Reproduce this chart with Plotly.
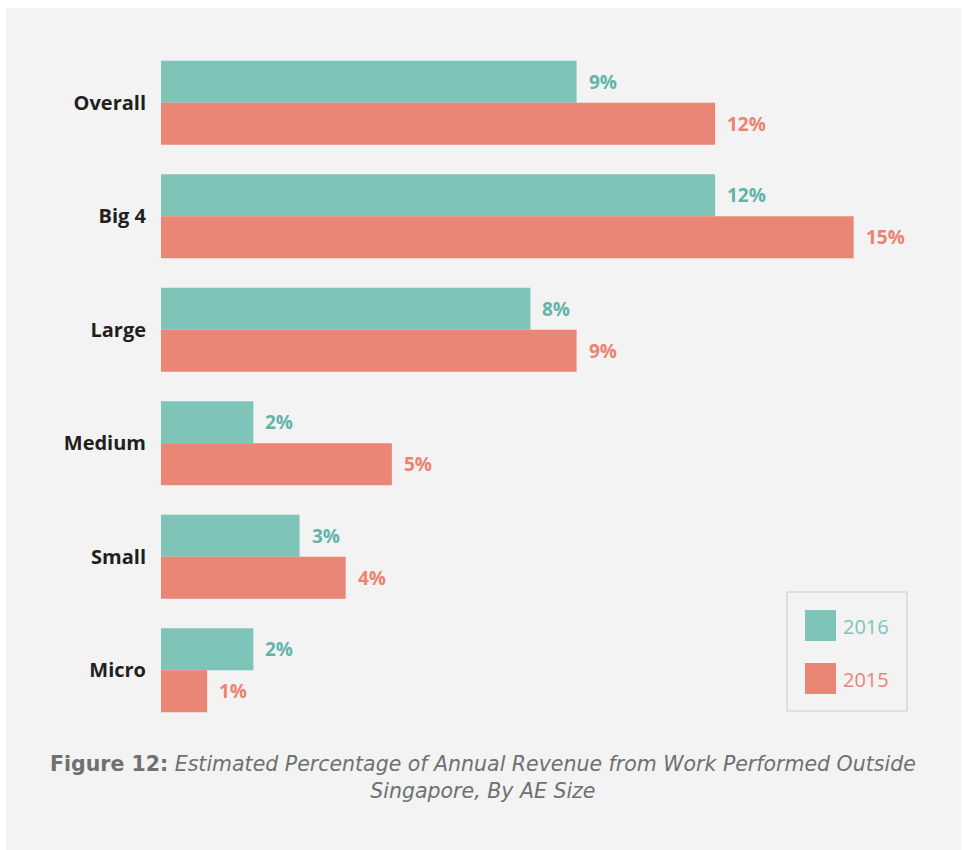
import plotly.graph_objects as go

# Data: share of annual revenue earned from work outside Singapore, by AE size
categories = ["Overall", "Big 4", "Large", "Medium", "Small", "Micro"]
values_2016 = [9, 12, 8, 2, 3, 2]
values_2015 = [12, 15, 9, 5, 4, 1]
series_names = ["2016", "2015"]

TEAL = "#7ec4b9"
SALMON = "#ea8676"
TEAL_TEXT = "#62b3aa"
SALMON_TEXT = "#ec8270"
PANEL = "#f2f3f2"

W, H = 962, 850
M_L, M_R, M_T, M_B = 161, 16, 46, 123
PLOT_W = W - M_L - M_R
PLOT_H = H - M_T - M_B
X_MAX = 17


def px_x(x):
    return (x - M_L) / PLOT_W


def px_y(y):
    return 1 - (y - M_T) / PLOT_H


FONT = "Open Sans"
CAPTION_FONT = "DejaVu Sans"

fig = go.Figure()
series = [(series_names[0], values_2016, TEAL), (series_names[1], values_2015, SALMON)]
for name, vals, col in series:
    fig.add_trace(go.Bar(
        name=name, y=categories, x=vals, orientation="h",
        marker=dict(color=col, line=dict(width=0)),
        showlegend=False, hoverinfo="x+y",
    ))

# value labels just beyond the end of each bar
offsets = [-0.185, 0.185]
text_cols = [TEAL_TEXT, SALMON_TEXT]
for (name, vals, col), off, tcol in zip(series, offsets, text_cols):
    for i, v in enumerate(vals):
        fig.add_annotation(
            x=v, y=i + off, xref="x", yref="y",
            text=f"<b>{v}%</b>", showarrow=False,
            xanchor="left", yanchor="middle", xshift=10,
            font=dict(family=FONT, size=19, color=tcol),
        )

# background panel
fig.add_shape(type="rect", xref="paper", yref="paper", layer="below",
              x0=px_x(6), x1=px_x(961), y0=px_y(850), y1=px_y(8),
              fillcolor=PANEL, line=dict(width=0))

# legend box
fig.add_shape(type="rect", xref="paper", yref="paper",
              x0=px_x(787), x1=px_x(907), y0=px_y(711), y1=px_y(592),
              fillcolor="rgba(0,0,0,0)", line=dict(color="#d8d9d9", width=1.5))
for (name, vals, col), top in zip(series, [610, 663]):
    fig.add_shape(type="rect", xref="paper", yref="paper",
                  x0=px_x(805), x1=px_x(836), y0=px_y(top + 31), y1=px_y(top),
                  fillcolor=col, line=dict(width=0))
    fig.add_annotation(x=px_x(841), y=px_y(top + 16), xref="paper", yref="paper",
                       text=name, showarrow=False, xanchor="left", yanchor="middle",
                       font=dict(family=FONT, size=20, color=col))

# caption (two centred lines)
CAP = "#6f7071"
fig.add_annotation(
    x=px_x(483), y=px_y(778), xref="paper", yref="paper", showarrow=False,
    xanchor="center", yanchor="middle", align="center",
    text="<b>Figure 12:</b> <i>Estimated Percentage of Annual Revenue from Work Performed Outside"
         "<br>Singapore, By AE Size</i>",
    font=dict(family=CAPTION_FONT, size=20.5, color=CAP),
)

fig.update_layout(
    width=W, height=H,
    margin=dict(l=M_L, r=M_R, t=M_T, b=M_B, pad=0),
    paper_bgcolor="white", plot_bgcolor="rgba(0,0,0,0)",
    barmode="group", bargap=0.26, bargroupgap=0,
    xaxis=dict(range=[0, X_MAX], visible=False, showgrid=False, zeroline=False),
    yaxis=dict(
        autorange="reversed", showgrid=False, zeroline=False, showline=False,
        ticks="", ticklabelstandoff=14,
        tickfont=dict(family=FONT, size=20, color="#231f20", weight="bold"),
    ),
    font=dict(family=FONT),
)

fig.write_html("out.html")
